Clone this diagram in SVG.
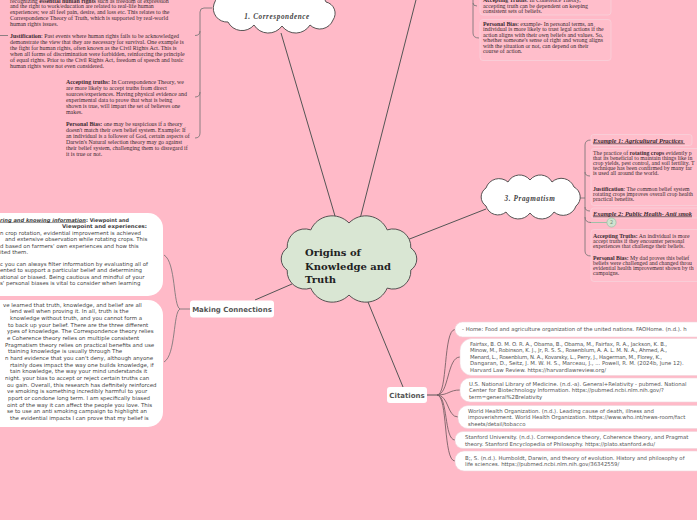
<svg xmlns="http://www.w3.org/2000/svg" width="697" height="520" viewBox="0 0 697 520">
<style>
.ser{font-family:"Liberation Serif",serif;font-size:5.9px;fill:#3a2a30}
.ser3{font-family:"Liberation Serif",serif;font-size:5.8px;fill:#3a2a30}
.exh{font-family:"Liberation Serif",serif;font-size:6.4px;font-weight:bold;font-style:italic;text-decoration:underline;fill:#3a2a30}
.sans{font-family:"DejaVu Sans",sans-serif;font-size:5.45px;fill:#474747}
.sansb{font-family:"DejaVu Sans",sans-serif;font-size:5.1px;font-weight:bold;fill:#3d3d3d}
.cite{font-family:"DejaVu Sans",sans-serif;font-size:5.35px;fill:#555}
.b{font-weight:bold}
.conn{stroke:#555;stroke-width:1;fill:none}
.brk{stroke:#707070;stroke-width:0.8;fill:none}
.fan{stroke:#7a6268;stroke-width:0.9;fill:none}
.box{fill:#ffbecb;stroke:#f7d2da;stroke-width:0.8}
.bub{fill:#fff;stroke:#f0d4da;stroke-width:0.6}
.cloud{stroke:#444;stroke-width:0.9}
.ctitle{font-family:"Liberation Serif",serif;font-size:7.2px;font-weight:bold;font-style:italic;letter-spacing:0.6px;fill:#444}
.node{font-family:"DejaVu Sans",sans-serif;font-size:7px;font-weight:bold;fill:#555}
</style>
<rect width="697" height="520" fill="#ffbac8"/>

<g id="connectors">
  <path class="conn" d="M335,216 L281,33"/>
  <path class="conn" d="M360,219 L417,-4"/>
  <path class="conn" d="M407,240 L486,209"/>
  <path class="conn" d="M292,284 L255,300"/>
  <path class="conn" d="M368,302 L403,387"/>
  <path class="conn" d="M427,395 L437,395"/>
  <path class="brk" d="M212,8 L204,8 Q200,8 200,12 L200,133 Q200,138 195,138"/>
  <path class="brk" d="M200,31 Q200,35.5 195,35.5"/>
  <path class="brk" d="M200,92 Q200,97 195,97"/>
  <path class="brk" d="M0,35.5 L8,35.5"/>
  <path class="brk" d="M473,-2 L473,33 Q473,38 479,38"/>
  <path class="brk" d="M473,3 Q473,6 477,6"/>
  <path class="brk" d="M578,198 L585,198"/>
  <path class="brk" d="M591,140 Q585,140 585,145 L585,251 Q585,256 591,256"/>
  <path class="brk" d="M585,172 Q585,176 590,176"/>
  <path class="brk" d="M585,207 Q585,211 590,211"/>
  <path class="brk" d="M585,217 Q585,222.5 591,222.5"/>
  <path d="M591,222.5 L607,222.5" stroke="#9fc0a8" stroke-width="1" fill="none"/>
  <path class="brk" d="M190,309 L180,309 C173,306 176,262 164,255"/>
  <path class="brk" d="M180,309 C173,312 176,355 164,362"/>
  <path class="fan" d="M437,395 C448,395 443,330 455,329.5"/>
  <path class="fan" d="M437,395 C449,395 447,357 460,357"/>
  <path class="fan" d="M437,395 C449,395 449,390 460,390"/>
  <path class="fan" d="M437,395 C449,395 447,417 458,417"/>
  <path class="fan" d="M437,395 C448,395 444,440 455,440"/>
  <path class="fan" d="M437,395 C448,395 443,461 455,461"/>
</g>

<g id="central">
  <path class="cloud" fill="#d9e6d3" d="M349,223 A23.3,23.3 0 0 1 387.2,229.9 A17.8,17.8 0 0 1 410.8,247.9 A13.3,13.3 0 0 1 410.8,270.1 A17.8,17.8 0 0 1 387.2,288.1 A23.3,23.3 0 0 1 349,295 A23.3,23.3 0 0 1 310.8,288.1 A17.8,17.8 0 0 1 287.2,270.1 A13.3,13.3 0 0 1 287.2,247.9 A17.8,17.8 0 0 1 310.8,229.9 A23.3,23.3 0 0 1 349,223 Z"/>
  <text font-family="DejaVu Serif,serif" font-weight="bold" font-size="10px" fill="#222">
    <tspan x="305" y="256">Origins of</tspan>
    <tspan x="305" y="269.5">Knowledge and</tspan>
    <tspan x="305" y="283">Truth</tspan>
  </text>
</g>

<g id="correspondence">
  <path class="cloud" fill="#fff" d="M214,4 A16.3,16.3 0 0 1 240,-4 A18,18 0 0 1 270,-6 A18,18 0 0 1 300,-5 A16.2,16.2 0 0 1 326,2 A11.6,11.6 0 0 1 333,20 A14.1,14.1 0 0 1 310,25 A16.8,16.8 0 0 1 282,26 A16.8,16.8 0 0 1 254,25 A15.7,15.7 0 0 1 228,22 A13.7,13.7 0 0 1 214,4 Z"/>
  <text class="ctitle" x="277" y="18.5" text-anchor="middle">1. Correspondence</text>
</g>

<g id="correspondence-text">
  <text class="ser">
    <tspan x="10" y="2.5">recognizing <tspan class="b">essential human rights</tspan> such as freedom of expression</tspan>
    <tspan x="10" y="8">and the right to work/education are related to real-life human</tspan>
    <tspan x="10" y="14">experiences; we all feel pain, desire, and loss etc.  This relates to the</tspan>
    <tspan x="10" y="20">Correspondence Theory of Truth, which is supported by real-world</tspan>
    <tspan x="10" y="26">human rights issues.</tspan>
    <tspan x="10" y="37.5"><tspan class="b">Justification</tspan>: Past events where human rights fails to be acknowledged</tspan>
    <tspan x="10" y="43.5">demonstrate the view that they are necessary for survival. One example is</tspan>
    <tspan x="10" y="49.5">the fight for human rights, often known as the Civil Rights Act. This is</tspan>
    <tspan x="10" y="55.5">when all forms of discrimination were forbidden, reinforcing the principle</tspan>
    <tspan x="10" y="61.5">of equal rights.  Prior to the Civil Rights Act, freedom of speech and basic</tspan>
    <tspan x="10" y="67.5">human rights were not even considered.</tspan>
  </text>
  <text class="ser">
    <tspan x="66" y="84"><tspan class="b">Accepting truths:</tspan> In Correspondence Theory, we</tspan>
    <tspan x="66" y="90">are more likely to accept truths from direct</tspan>
    <tspan x="66" y="96">sources/experiences. Having physical evidence and</tspan>
    <tspan x="66" y="102">experimental data to prove that what is being</tspan>
    <tspan x="66" y="108">shown is true, will impart the set of believes one</tspan>
    <tspan x="66" y="114">makes.</tspan>
    <tspan x="66" y="126"><tspan class="b">Personal Bias:</tspan> one may be suspicious if a theory</tspan>
    <tspan x="66" y="132">doesn't match their own belief system. Example: If</tspan>
    <tspan x="66" y="138">an individual is a follower of God, certain aspects of</tspan>
    <tspan x="66" y="144">Darwin's Natural selection theory may go against</tspan>
    <tspan x="66" y="150">their belief system, challenging them to disregard if</tspan>
    <tspan x="66" y="156">it is true or not.</tspan>
  </text>
</g>

<g id="coherence-text">
  <rect class="box" x="480" y="-6" width="131" height="21" rx="3"/>
  <rect class="box" x="480" y="19.5" width="131" height="41" rx="3"/>
  <text class="ser">
    <tspan x="483" y="1.5"><tspan class="b">Accepting Truths</tspan>: In Coherence Theory,</tspan>
    <tspan x="483" y="7.5">accepting truth can be dependent on keeping</tspan>
    <tspan x="483" y="13">consistent sets of beliefs.</tspan>
    <tspan x="483" y="25.5"><tspan class="b">Personal Bias</tspan>: example- In personal terms, an</tspan>
    <tspan x="483" y="31">individual is more likely to trust legal actions if the</tspan>
    <tspan x="483" y="36.5">action aligns with their own beliefs and values.  So,</tspan>
    <tspan x="483" y="42">whether someone's sense of right and wrong aligns</tspan>
    <tspan x="483" y="47.5">with the situation or not, can depend on their</tspan>
    <tspan x="483" y="53">course of action.</tspan>
  </text>
</g>

<g id="pragmatism">
  <path class="cloud" fill="#fff" d="M486,188 A13.7,13.7 0 0 1 508,182 A13.2,13.2 0 0 1 530,180 A13.2,13.2 0 0 1 552,182 A13.6,13.6 0 0 1 574,187 A11.4,11.4 0 0 1 576,206 A13.7,13.7 0 0 1 554,212 A14.4,14.4 0 0 1 530,213 A14.4,14.4 0 0 1 506,212 A12.5,12.5 0 0 1 486,206 A10.8,10.8 0 0 1 486,188 Z"/>
  <text class="ctitle" x="530" y="200.5" text-anchor="middle">3. Pragmatism</text>
</g>

<g id="pragmatism-text">
  <rect class="box" x="591" y="134.5" width="101" height="11" rx="2.5"/>
  <rect class="box" x="591" y="148.5" width="120" height="57" rx="3"/>
  <rect class="box" x="591" y="208" width="120" height="10" rx="2.5"/>
  <rect class="box" x="591" y="229.5" width="120" height="52" rx="3"/>
  <text class="exh">
    <tspan x="593" y="142.5">Example 1: Agricultural Practices</tspan>
    <tspan x="593" y="215.5">Example 2: Public Health- Anti smok</tspan>
  </text>
  <text class="ser3">
    <tspan x="593" y="155">The practice of <tspan class="b">rotating crops</tspan> evidently p</tspan>
    <tspan x="593" y="160">that its beneficial to maintain things like in</tspan>
    <tspan x="593" y="165">crop yields, pest control, and soil fertility. T</tspan>
    <tspan x="593" y="170">technique has been confirmed by many far</tspan>
    <tspan x="593" y="175">is used all around the world.</tspan>
    <tspan x="593" y="191"><tspan class="b">Justification</tspan>: The common belief system</tspan>
    <tspan x="593" y="196">rotating crops improves overall crop health</tspan>
    <tspan x="593" y="201">practical benefits.</tspan>
    <tspan x="593" y="238"><tspan class="b">Accepting Truths:</tspan> An individual is more</tspan>
    <tspan x="593" y="243">accept truths if they encounter personal</tspan>
    <tspan x="593" y="248">experiences that challenge their beliefs.</tspan>
    <tspan x="593" y="259.5"><tspan class="b">Personal Bias:</tspan> My dad proves this belief</tspan>
    <tspan x="593" y="264.5">beliefs were challenged and changed throu</tspan>
    <tspan x="593" y="269.5">evidential health improvement shown by th</tspan>
    <tspan x="593" y="274.5">campaigns.</tspan>
  </text>
  <g id="badge-2">
    <circle cx="611.5" cy="222.5" r="4.6" fill="#cfe3cf" stroke="#9fc0a8" stroke-width="0.8"/>
    <text x="611.5" y="224.3" text-anchor="middle" font-family="DejaVu Sans,sans-serif" font-size="5px" fill="#7a8f7a">2</text>
  </g>
</g>

<g id="making-connections">
  <rect x="190" y="300.5" width="84" height="17" rx="3" fill="#fff"/>
  <text class="node" x="232" y="311.8" text-anchor="middle">Making Connections</text>
</g>

<g id="mc-bubble-1">
  <rect x="-20" y="213" width="183" height="83" rx="15" fill="#fff"/>
  <text class="sansb" font-style="italic" text-decoration="underline" x="0" y="221.5" textLength="86" lengthAdjust="spacingAndGlyphs">ring and knowing information</text>
  <text class="sansb" x="86" y="221.5" textLength="43" lengthAdjust="spacingAndGlyphs">: Viewpoint and</text>
  <text class="sansb" x="62" y="227.8" textLength="85" lengthAdjust="spacingAndGlyphs">Viewpoint and experiences:</text>
  <text class="sans">
    <tspan x="0" y="235">n crop rotation, evidential improvement is achieved</tspan>
    <tspan x="5" y="241.3">and extensive observation while rotating crops. This</tspan>
    <tspan x="0" y="247.6">d based on farmers' own experiences and how this</tspan>
    <tspan x="0" y="253.9">ited them.</tspan>
    <tspan x="0" y="265.5">c you can always filter information by evaluating all of</tspan>
    <tspan x="0" y="272">ented to support a particular belief and determining</tspan>
    <tspan x="0" y="278.5">ational or biased. Being cautious and mindful of your</tspan>
    <tspan x="0" y="285">s' personal biases is vital to consider when learning</tspan>
  </text>
</g>

<g id="mc-bubble-2">
  <rect x="-20" y="300" width="183" height="127" rx="15" fill="#fff"/>
  <text class="sans">
    <tspan x="3" y="306.7">ve learned that truth, knowledge, and belief are all</tspan>
    <tspan x="10" y="313.4">lend well when proving it. In all, truth is the</tspan>
    <tspan x="10" y="320">knowledge without truth, and you cannot form a</tspan>
    <tspan x="8" y="326.7">to back up your belief. There are the three different</tspan>
    <tspan x="7" y="333.4">ypes of knowledge. The Correspondence theory relies</tspan>
    <tspan x="7" y="340">e Coherence theory relies on multiple consistent</tspan>
    <tspan x="5" y="346.7">Pragmatism theory relies on practical benefits and use</tspan>
    <tspan x="8" y="353.4">ttaining knowledge is usually through The</tspan>
    <tspan x="5" y="360">n hard evidence that you can't deny, although anyone</tspan>
    <tspan x="10" y="366.7">rtainly does impact the way one builds knowledge, if</tspan>
    <tspan x="10" y="373.4">tain knowledge, the way your mind understands it</tspan>
    <tspan x="5" y="380">night. your bias to accept or reject certain truths can</tspan>
    <tspan x="7" y="386.7">ou gain. Overall, this research has definitely reinforced</tspan>
    <tspan x="7" y="393.4">ve smoking is something incredibly harmful to your</tspan>
    <tspan x="8" y="400">pport or condone long term. I am specifically biased</tspan>
    <tspan x="7" y="406.7">oint of the way it can affect the people you love. This</tspan>
    <tspan x="7" y="413.4">se to use an anti smoking campaign to highlight an</tspan>
    <tspan x="10" y="420">the evidential impacts I can prove that my belief is</tspan>
  </text>
</g>

<g id="citations">
  <rect x="387" y="387" width="40" height="16" rx="3" fill="#fff"/>
  <text class="node" x="407" y="397.5" text-anchor="middle" font-size="6.6px">Citations</text>
</g>

<g id="cite-1">
  <rect class="bub" x="455" y="322" width="260" height="15" rx="7.5"/>
  <text class="cite" x="462" y="331.3">- Home: Food and agriculture organization of the united nations. FAOHome. (n.d.). h</text>
</g>
<g id="cite-2">
  <rect class="bub" x="460" y="338.5" width="250" height="37" rx="12"/>
  <text class="cite" x="470" y="345.5" textLength="197">Fairfax, B. O. M. O. R. A., Obama, B., Obama, M., Fairfax, R. A., Jackson, K. B.,</text>
  <text class="cite" x="470" y="352" textLength="197">Minow, M., Robinson, K. J., Jr, R. S. S., Rosenblum, A. A. L. M. N. A., Ahmed, A.,</text>
  <text class="cite" x="470" y="358.5" textLength="192">Menard, L., Rosenblum, N. A., Kovarsky, L., Perry, J., Hagerman, M., Florey, K.,</text>
  <text class="cite" x="470" y="365">Dangaran, D., Seitz, J. M. W. H. S., Marceau, J., ... Powell, R. M. (2024b, June 12).</text>
  <text class="cite" x="470" y="371.5">Harvard Law Review. https://harvardlawreview.org/</text>
</g>
<g id="cite-3">
  <rect class="bub" x="460" y="378" width="250" height="24" rx="10"/>
  <text class="cite">
    <tspan x="469" y="386">U.S. National Library of Medicine. (n.d.-a). General+Relativity - pubmed. National</tspan>
    <tspan x="469" y="392.4">Center for Biotechnology Information. https://pubmed.ncbi.nlm.nih.gov/?</tspan>
    <tspan x="469" y="398.8">term=general%2Brelativity</tspan>
  </text>
</g>
<g id="cite-4">
  <rect class="bub" x="458" y="405.5" width="250" height="23" rx="10"/>
  <text class="cite">
    <tspan x="468" y="412.5">World Health Organization. (n.d.). Leading cause of death, illness and</tspan>
    <tspan x="468" y="419">impoverishment. World Health Organization. https://www.who.int/news-room/fact</tspan>
    <tspan x="468" y="425.5">sheets/detail/tobacco</tspan>
  </text>
</g>
<g id="cite-5">
  <rect class="bub" x="455" y="431.5" width="250" height="17" rx="8"/>
  <text class="cite">
    <tspan x="465" y="439.3">Stanford University. (n.d.). Correspondence theory, Coherence theory, and Pragmat</tspan>
    <tspan x="465" y="445.5">theory. Stanford Encyclopedia of Philosophy. https://plato.stanford.edu/</tspan>
  </text>
</g>
<g id="cite-6">
  <rect class="bub" x="455" y="451" width="250" height="20" rx="9"/>
  <text class="cite">
    <tspan x="465" y="459.5">B;, S. (n.d.). Humboldt, Darwin, and theory of evolution. History and philosophy of</tspan>
    <tspan x="465" y="466.3">life sciences. https://pubmed.ncbi.nlm.nih.gov/36342559/</tspan>
  </text>
</g>
</svg>
